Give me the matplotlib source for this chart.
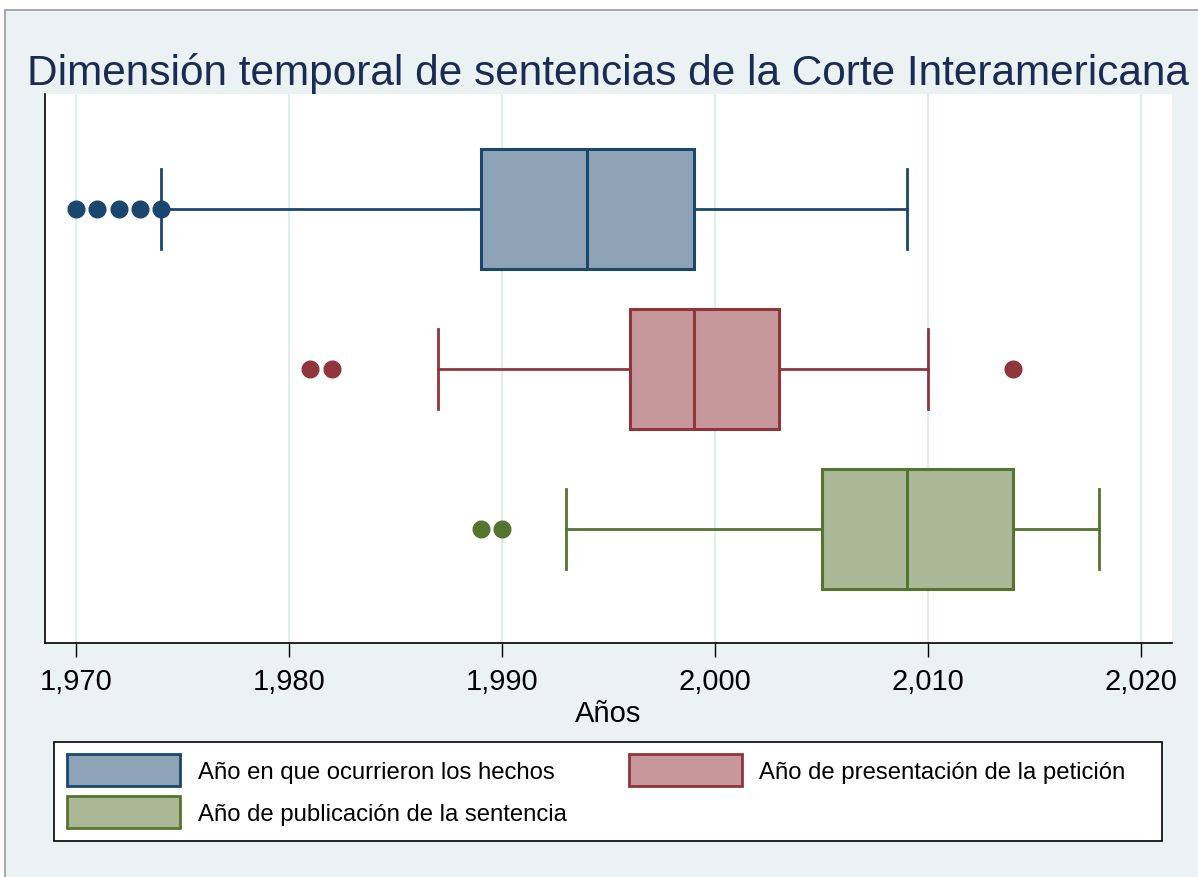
import matplotlib
matplotlib.use('Agg')
import matplotlib.pyplot as plt
from matplotlib.patches import Patch, Rectangle

# --- data (years) ---
series = ['Año en que ocurrieron los hechos',
          'Año de presentación de la petición',
          'Año de publicación de la sentencia']
whislo = [1974, 1987, 1993]
q1 = [1989, 1996, 2005]
med = [1994, 1999, 2009]
q3 = [1999, 2003, 2014]
whishi = [2009, 2010, 2018]
fliers = [[1970, 1971, 1972, 1973, 1974], [1981, 1982, 2014], [1989, 1990]]
xticks = [1970, 1980, 1990, 2000, 2010, 2020]

edge_colors = ['#1a476f', '#90353b', '#55752f']
fill_colors = ['#8ea3b6', '#c7989b', '#aab897']
bg = '#eaf2f3'
W, H = 1198, 878

plt.rcParams['font.family'] = ['Liberation Sans', 'DejaVu Sans']

fig = plt.figure(figsize=(W / 100, H / 100), dpi=100)
fig.patch.set_facecolor('white')
fig.patches.append(Rectangle((5 / W, -0.01), 1.0, 1 - 11 / H + 0.01, transform=fig.transFigure,
                             facecolor=bg, edgecolor='#9a9a9a', linewidth=1.2, zorder=-5))

ax = fig.add_axes([45 / W, (H - 644) / H, (1172 - 45) / W, (644 - 95) / H], zorder=2)
ax.set_facecolor('white')

positions = [3, 2, 1]
for i in range(3):
    stats = [dict(whislo=whislo[i], q1=q1[i], med=med[i], q3=q3[i], whishi=whishi[i],
                  fliers=fliers[i])]
    c = edge_colors[i]
    ax.bxp(stats, positions=[positions[i]], widths=0.75, capwidths=0.5, vert=False,
           patch_artist=True, showfliers=True,
           boxprops=dict(facecolor=fill_colors[i], edgecolor=c, linewidth=2.2),
           medianprops=dict(color=c, linewidth=2.2),
           whiskerprops=dict(color=c, linewidth=2),
           capprops=dict(color=c, linewidth=2),
           flierprops=dict(marker='o', markerfacecolor=c, markeredgecolor=c, markersize=12))

ax.set_xlim(1968.55, 2021.45)
ax.set_ylim(0.285, 3.72)
ax.set_xticks(xticks)
ax.set_xticklabels([f'{t:,}' for t in xticks], fontsize=21)
ax.set_yticks([])
ax.tick_params(axis='x', length=10, width=1, pad=7)
ax.grid(axis='x', color='#e3ecef', linewidth=1.5)
ax.set_axisbelow(True)
for s in ['top', 'right']:
    ax.spines[s].set_visible(False)
for s in ['left', 'bottom']:
    ax.spines[s].set_color('black')
    ax.spines[s].set_linewidth(1.2)
ax.set_xlabel('Años', fontsize=21, labelpad=3)

fig.text(608 / W, 1 - 85 / H, 'Dimensión temporal de sentencias de la Corte Interamericana',
         fontsize=30.5, color='#1c2b54', ha='center', va='baseline')

# legend frame drawn separately so its size matches the reference box
fig.patches.append(Rectangle((54 / W, (H - 842) / H), (1162 - 54) / W, (842 - 743) / H,
                             transform=fig.transFigure, facecolor='white', edgecolor='black',
                             linewidth=1.2, zorder=1))
handles = [Patch(facecolor=fill_colors[i], edgecolor=edge_colors[i], linewidth=2, label=series[i])
           for i in [0, 2, 1]]
leg = fig.legend(handles=handles, ncol=2, loc='upper left',
                 bbox_to_anchor=(67 / W, 1 - 755 / H),
                 fontsize=17.2, frameon=False,
                 handlelength=4.75, handleheight=1.68, handletextpad=0.72, labelspacing=0.44,
                 columnspacing=2.6, borderaxespad=0, borderpad=0)
leg.set_zorder(3)

fig.savefig('out.png', dpi=100, facecolor=fig.get_facecolor())
